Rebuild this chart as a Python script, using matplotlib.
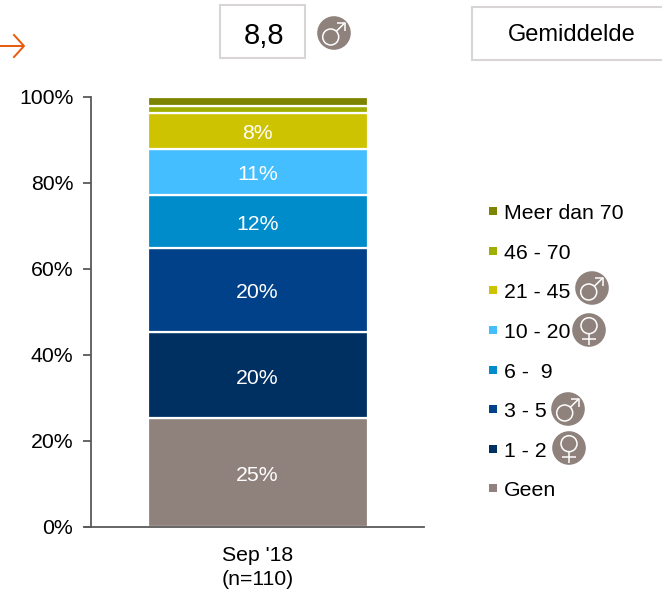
import matplotlib
matplotlib.use("Agg")
import matplotlib.pyplot as plt
from matplotlib.patches import Rectangle, Ellipse, Circle
from matplotlib.lines import Line2D

plt.rcParams['font.family'] = ['Liberation Sans', 'DejaVu Sans']

W, H = 662, 590
categories = ["Sep '18\n(n=110)"]
series_names = ["Geen", "1 - 2", "3 - 5", "6 -  9", "10 - 20", "21 - 45", "46 - 70", "Meer dan 70"]
series_values = [25.3, 20.0, 19.6, 12.3, 10.7, 8.4, 1.7, 1.9]
value_labels = ["25%", "20%", "20%", "12%", "11%", "8%", "", ""]
colors = ["#8F827D", "#002F62", "#004189", "#008CCB", "#45BEFF", "#CDC300", "#A0AE00", "#7D8400"]
legend_symbols = [None, "f", "m", None, "f", "m", None, None]
legend_y = [490, 451, 411, 372, 332, 292, 253, 213]
symbol_x = [None, 569, 568, None, 589, 592, None, None]
symbol_y = [None, 448, 409, None, 330, 288, None, None]
y_ticks = [0, 20, 40, 60, 80, 100]
avg_value = "8,8"
avg_label = "Gemiddelde"
FS = 15.3

fig = plt.figure(figsize=(W/100, H/100), dpi=100)
ax = fig.add_axes([91/W, 1-527/H, (424-91)/W, (527-97)/H])
bottom = 0
for name, v, c, lab in zip(series_names, series_values, colors, value_labels):
    ax.bar(0, v, bottom=bottom, width=220/333, color=c, edgecolor="white", linewidth=1.6, zorder=2)
    if lab:
        ax.text(0, bottom+v/2-0.65, lab, color="white", ha="center", va="center", fontsize=FS, zorder=3)
    bottom += v
ax.set_xlim(-0.5, 0.5)
ax.set_ylim(0, 100)
ax.set_yticks(y_ticks)
ax.set_yticklabels([f"{t}%" for t in y_ticks], fontsize=FS, color="black")
ax.set_xticks([0])
ax.set_xticklabels(categories, fontsize=FS, linespacing=1.3)
ax.tick_params(axis='y', length=6, width=1.3, color="#595959", pad=6.7)
ax.tick_params(axis='x', length=0, pad=14)
for s in ["top", "right"]:
    ax.spines[s].set_visible(False)
for s in ["left", "bottom"]:
    ax.spines[s].set_color("#595959")
    ax.spines[s].set_linewidth(1.3)
fig.add_artist(Line2D([85/W, 91/W], [1-527/H]*2, color="#595959", lw=1.3))

ov = fig.add_axes([0, 0, 1, 1])
ov.set_xlim(0, W); ov.set_ylim(H, 0); ov.axis("off"); ov.patch.set_alpha(0)

def symbol(x, y, kind, r=16.8):
    ov.add_patch(Ellipse((x, y), 2*r, 2*r, color="#8F827D", lw=0))
    kw = dict(color="white", lw=1.1, solid_capstyle="butt")
    if kind == "m":
        ov.add_patch(Circle((x-3.3, y+4), 8, fc="none", ec="white", lw=1.1))
        ov.plot([x+2.4, x+10.7], [y-1.8, y-10], **kw)
        ov.plot([x+3.2, x+10.7, x+10.7], [y-10, y-10, y-2.5], **kw)
    else:
        ov.add_patch(Circle((x, y-4.3), 8, fc="none", ec="white", lw=1.1))
        ov.plot([x, x], [y+3.7, y+14.5], **kw)
        ov.plot([x-7, x+7], [y+9, y+9], **kw)

for name, c, ly, sym, sx, sy in zip(series_names, colors, legend_y, legend_symbols, symbol_x, symbol_y):
    ov.add_patch(Rectangle((489, ly-6), 8, 8, color=c, lw=0))
    ov.text(504, ly+0.5, name, fontsize=FS, va="center", ha="left", color="black")
    if sym:
        symbol(sx, sy, sym)

ov.add_patch(Rectangle((220, 5), 85, 53, fc="white", ec="#D9D5D6", lw=1.5))
ov.text(264, 36, avg_value, fontsize=21, ha="center", va="center", color="black")
symbol(334, 33, "m", r=16.8)
ov.add_patch(Rectangle((472, 7), 195, 53, fc="white", ec="#D9D5D6", lw=1.5))
ov.text(571.5, 35, avg_label, fontsize=17, ha="center", va="center", color="black")
ov.plot([-2, 23], [46, 46], color="#E8590C", lw=1.4)
ov.plot([14, 24, 14], [35, 46, 57], color="#E8590C", lw=1.4)
fig.savefig("out.png", dpi=100)
